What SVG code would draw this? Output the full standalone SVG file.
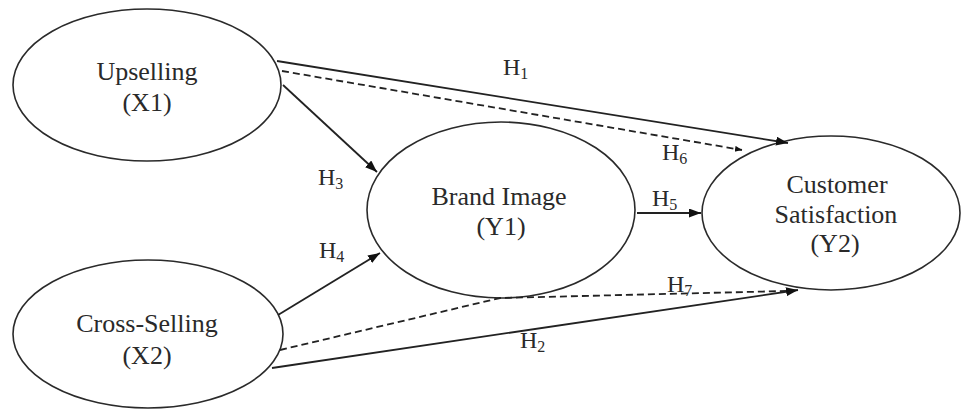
<svg xmlns="http://www.w3.org/2000/svg" width="962" height="410" viewBox="0 0 962 410">
<style>
.node ellipse{fill:#fff;stroke:#2a2a2a;stroke-width:1.6}
.t{font-family:"Liberation Serif","Times New Roman",serif;font-size:26px;fill:#2a2a2a;text-anchor:middle}
.lbl{font-family:"Liberation Serif","Times New Roman",serif;font-size:24px;fill:#2a2a2a}
.sub{font-size:16px}
.ln{fill:none;stroke:#222;stroke-width:1.8}
.dash{stroke-dasharray:7 4}
</style>
<defs>
<marker id="arr" markerUnits="userSpaceOnUse" markerWidth="13" markerHeight="10" refX="12" refY="4.5" orient="auto">
<path d="M0,0 L12,4.5 L0,9 z" fill="#111"/>
</marker>
<marker id="arrs" markerUnits="userSpaceOnUse" markerWidth="8" markerHeight="7" refX="7" refY="3" orient="auto">
<path d="M0,0 L7,3 L0,6 z" fill="#111"/>
</marker>
</defs>
<rect width="962" height="410" fill="#fff"/>
<g id="n-upselling" class="node">
<ellipse cx="147" cy="85" rx="134" ry="76"/>
<text class="t" x="147" y="80">Upselling</text>
<text class="t" x="147" y="111">(X1)</text>
</g>
<g id="n-crossselling" class="node">
<ellipse cx="148" cy="334" rx="135" ry="74"/>
<text class="t" x="147" y="332">Cross-Selling</text>
<text class="t" x="147" y="364">(X2)</text>
</g>
<g id="n-brandimage" class="node">
<ellipse cx="501" cy="210" rx="134" ry="88"/>
<text class="t" x="499" y="205">Brand Image</text>
<text class="t" x="501" y="235">(Y1)</text>
</g>
<g id="n-customersatisfaction" class="node">
<ellipse cx="831" cy="213" rx="129" ry="77"/>
<text class="t" x="837" y="193">Customer</text>
<text class="t" x="836" y="223">Satisfaction</text>
<text class="t" x="835" y="252">(Y2)</text>
</g>
<g id="connectors">
<path class="ln" d="M277,61 L788,143" marker-end="url(#arr)"/>
<path class="ln dash" d="M282,71 L742,150" marker-end="url(#arrs)"/>
<path class="ln" d="M283,85 L377,172" marker-end="url(#arr)"/>
<path class="ln" d="M278,315 L380,253" marker-end="url(#arr)"/>
<path class="ln" d="M637,213 L701,213" marker-end="url(#arr)"/>
<path class="ln" d="M272,368 L798,290" marker-end="url(#arr)"/>
<path class="ln dash" d="M280,350 L500,298 L786,291"/>
</g>
<g id="labels">
<text class="lbl" x="503" y="75">H<tspan class="sub" dy="4">1</tspan></text>
<text class="lbl" x="662" y="160">H<tspan class="sub" dy="4">6</tspan></text>
<text class="lbl" x="318" y="185">H<tspan class="sub" dy="4">3</tspan></text>
<text class="lbl" x="319" y="258">H<tspan class="sub" dy="4">4</tspan></text>
<text class="lbl" x="652" y="206">H<tspan class="sub" dy="4">5</tspan></text>
<text class="lbl" x="667" y="292">H<tspan class="sub" dy="4">7</tspan></text>
<text class="lbl" x="520" y="348">H<tspan class="sub" dy="4">2</tspan></text>
</g>
</svg>
